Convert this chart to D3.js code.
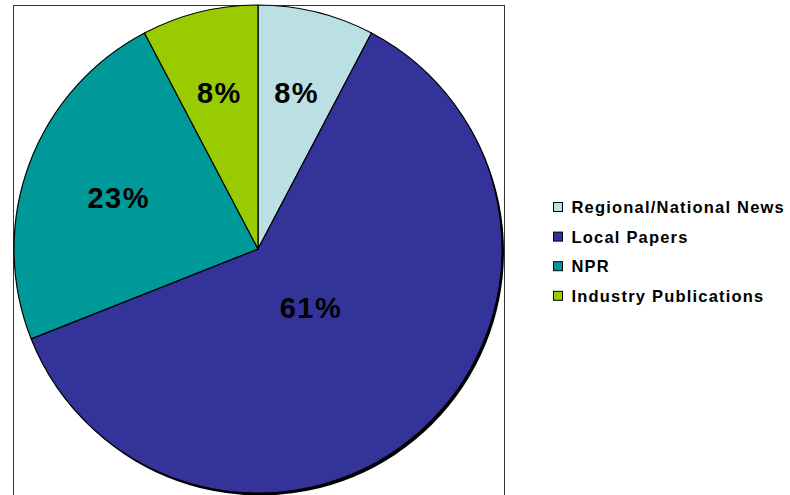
<!DOCTYPE html>
<html>
<head>
<meta charset="utf-8">
<script src="https://cdn.jsdelivr.net/npm/d3@7"></script>
<style>
  body { margin: 0; background: #fff; }
  svg { display: block; font-family: "Liberation Sans", Arial, sans-serif; }
</style>
</head>
<body>
<div id="chart"></div>
<script>
// Share of mentions by outlet type
const categories = ["Regional/National News", "Local Papers", "NPR", "Industry Publications"];
const values = [7.7, 61.3, 23.3, 7.7];
const colors = ["#BBE0E3", "#333399", "#009999", "#99CC00"];

const width = 790, height = 495;
const svg = d3.select("#chart").append("svg")
    .attr("width", width)
    .attr("height", height);

// plot area frame
svg.append("rect")
    .attr("x", 13.5).attr("y", 5.5)
    .attr("width", 491).attr("height", 500)
    .attr("fill", "none")
    .attr("stroke", "#333")
    .attr("stroke-width", 1);

const cx = 258, cy = 249, radius = 244;

const pie = d3.pie().sort(null).value(d => d);
const arcs = pie(values);
const arc = d3.arc().innerRadius(0).outerRadius(radius);

const g = svg.append("g").attr("transform", `translate(${cx},${cy})`);

// drop shadow
g.append("circle")
    .attr("cx", 2).attr("cy", 2.5)
    .attr("r", radius)
    .attr("fill", "#000");

g.selectAll("path.slice")
    .data(arcs)
    .join("path")
    .attr("class", "slice")
    .attr("d", arc)
    .attr("fill", (d, i) => colors[i])
    .attr("stroke", "#000")
    .attr("stroke-width", 1.2)
    .attr("stroke-linejoin", "round");

// labels at the area centroid of each sector
const total = d3.sum(values);
g.selectAll("text.pct")
    .data(arcs)
    .join("text")
    .attr("class", "pct")
    .attr("transform", d => {
        const half = (d.endAngle - d.startAngle) / 2;
        const mid = d.startAngle + half;
        const r = 2 * radius * Math.sin(half) / (3 * half);
        return `translate(${r * Math.sin(mid)},${-r * Math.cos(mid)})`;
    })
    .attr("text-anchor", "middle")
    .attr("dy", "0.36em")
    .attr("font-size", 29)
    .attr("font-weight", "bold")
    .attr("letter-spacing", 1.5)
    .attr("fill", "#000")
    .text(d => Math.round(d.value / total * 100) + "%");

// legend
const legend = svg.append("g").attr("transform", "translate(553,207)");
const item = legend.selectAll("g")
    .data(categories)
    .join("g")
    .attr("transform", (d, i) => `translate(0,${i * 29.6})`);

item.append("rect")
    .attr("x", 0.5).attr("y", -4.5)
    .attr("width", 9).attr("height", 9)
    .attr("fill", (d, i) => colors[i])
    .attr("stroke", "#000")
    .attr("stroke-width", 1);

item.append("text")
    .attr("x", 18.5)
    .attr("dy", "0.36em")
    .attr("font-size", 16.5)
    .attr("font-weight", "bold")
    .attr("letter-spacing", 1.2)
    .attr("fill", "#000")
    .text(d => d);
</script>
</body>
</html>
